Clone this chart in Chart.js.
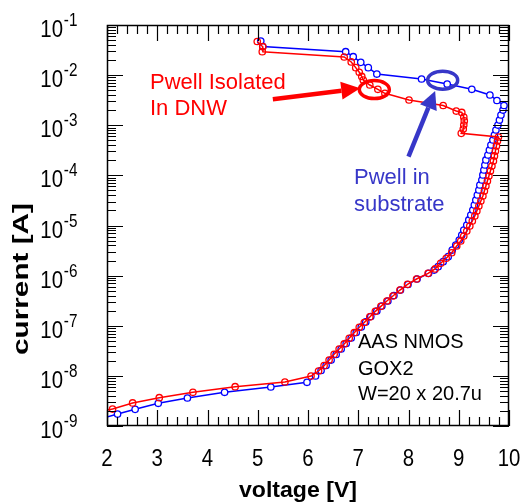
<!DOCTYPE html>
<html>
<head>
<meta charset="utf-8">
<script src="https://cdn.jsdelivr.net/npm/chart.js@4.4.1/dist/chart.umd.min.js"></script>
<style>
  html, body { margin: 0; padding: 0; background: #fff; }
  #wrap { width: 523px; height: 504px; }
</style>
</head>
<body>
<div id="wrap"><canvas id="ivChart" width="523" height="504"></canvas></div>
<script>
// Pwell isolated in DNW (red): voltage [V] / current [A]
const redV = [1.80, 2.11, 2.51, 3.04, 3.71, 4.55, 5.54, 6.06, 6.21, 6.32, 6.42, 6.52, 6.62, 6.72, 6.82, 6.92,
  7.02, 7.12, 7.23, 7.34, 7.45, 7.57, 7.69, 7.83, 7.98, 8.16, 8.39, 8.53, 8.64, 8.75, 8.86, 8.96,
  9.04, 9.10, 9.16, 9.22, 9.27, 9.32, 9.36, 9.40, 9.44, 9.48, 9.51, 9.54, 9.57, 9.60, 9.63, 9.66,
  9.69, 9.71, 9.73, 9.75, 9.77, 9.79, 9.05, 9.09, 9.10, 9.11, 9.10, 9.06, 8.95, 8.69, 8.01, 7.53,
  7.39, 7.23, 7.10, 7.07, 7.02, 6.95, 6.86, 6.72, 5.09, 5.10, 4.99]
const redI = [1.90e-9, 2.18e-9, 2.88e-9, 3.67e-9, 4.70e-9, 6.08e-9, 7.55e-9, 9.94e-9, 1.25e-8, 1.60e-8, 2.07e-8, 2.69e-8, 3.44e-8, 4.33e-8, 5.62e-8, 7.26e-8,
  9.31e-8, 1.16e-7, 1.50e-7, 1.94e-7, 2.44e-7, 3.12e-7, 3.92e-7, 5.16e-7, 6.71e-7, 8.57e-7, 1.11e-6, 1.36e-6, 1.76e-6, 2.22e-6, 2.86e-6, 3.90e-6,
  4.91e-6, 6.17e-6, 7.76e-6, 9.77e-6, 1.23e-5, 1.55e-5, 1.95e-5, 2.45e-5, 3.08e-5, 3.88e-5, 4.88e-5, 6.14e-5, 7.73e-5, 9.72e-5, 1.22e-4, 1.54e-4,
  1.94e-4, 2.44e-4, 3.06e-4, 3.86e-4, 4.85e-4, 5.83e-4, 6.90e-4, 8.41e-4, 1.01e-3, 1.22e-3, 1.46e-3, 1.80e-3, 1.92e-3, 2.48e-3, 3.19e-3, 4.34e-3,
  5.21e-3, 6.35e-3, 8.00e-3, 9.40e-3, 1.14e-2, 1.41e-2, 1.83e-2, 2.30e-2, 2.93e-2, 3.69e-2, 4.69e-2]

// Pwell in substrate (blue)
const blueV = [1.80, 2.21, 2.56, 3.02, 3.60, 4.34, 5.26, 5.98, 6.15, 6.26, 6.36, 6.46, 6.56, 6.66, 6.76, 6.86,
  6.96, 7.06, 7.15, 7.25, 7.37, 7.47, 7.59, 7.71, 7.84, 7.99, 8.17, 8.40, 8.51, 8.59, 8.69, 8.79,
  8.87, 8.94, 9.01, 9.06, 9.10, 9.16, 9.20, 9.24, 9.28, 9.31, 9.34, 9.37, 9.40, 9.42, 9.46, 9.48,
  9.50, 9.52, 9.54, 9.58, 9.61, 9.64, 9.68, 9.71, 9.74, 9.78, 9.81, 9.84, 9.88, 9.90, 9.76, 9.62,
  9.26, 8.77, 8.26, 7.37, 7.20, 7.05, 6.90, 6.75, 5.10, 5.06]
const blueI = [1.34e-9, 1.73e-9, 2.15e-9, 2.84e-9, 3.62e-9, 4.70e-9, 6.00e-9, 7.45e-9, 9.94e-9, 1.28e-8, 1.61e-8, 2.07e-8, 2.67e-8, 3.44e-8, 4.43e-8, 5.70e-8,
  7.33e-8, 9.44e-8, 1.19e-7, 1.53e-7, 1.97e-7, 2.48e-7, 3.12e-7, 4.01e-7, 5.16e-7, 6.65e-7, 8.57e-7, 1.11e-6, 1.29e-6, 1.51e-6, 1.90e-6, 2.39e-6,
  3.24e-6, 4.08e-6, 5.14e-6, 6.46e-6, 8.13e-6, 1.02e-5, 1.29e-5, 1.62e-5, 2.04e-5, 2.56e-5, 3.23e-5, 4.06e-5, 5.11e-5, 6.43e-5, 8.09e-5, 1.02e-4,
  1.28e-4, 1.61e-4, 2.03e-4, 2.55e-4, 3.21e-4, 4.04e-4, 5.08e-4, 6.39e-4, 8.04e-4, 1.01e-3, 1.27e-3, 1.60e-3, 2.01e-3, 2.48e-3, 3.12e-3, 4.01e-3,
  5.21e-3, 6.65e-3, 8.37e-3, 1.05e-2, 1.41e-2, 1.80e-2, 2.33e-2, 2.93e-2, 3.72e-2, 4.80e-2]

// axis ticks
const xTicks = [2, 3, 4, 5, 6, 7, 8, 9, 10]
const yExps = [-9, -8, -7, -6, -5, -4, -3, -2, -1]

const FONT = '"Liberation Sans", Arial, Helvetica, sans-serif'
const RED = '#ff0000'
const BLUE = '#0000ff'
const NOTE_BLUE = '#3737c8'

const toPts = (xs, ys) => xs.map((v, i) => ({ x: v, y: ys[i] }))

// 軸・目盛り・注記は自前で描画
const overlay = {
  id: 'overlay',
  afterDraw(chart) {
    const { ctx, chartArea: a } = chart
    const sx = chart.scales.x
    const sy = chart.scales.y
    ctx.save()

    // frame
    ctx.strokeStyle = '#000'
    ctx.lineWidth = 1.5
    ctx.strokeRect(a.left + 0.5, a.top + 0.5, a.width - 1, a.height - 1)

    // x ticks (inside, top and bottom)
    ctx.lineWidth = 1.2
    ctx.beginPath()
    for (let k = 0; k <= 40; k++) {
      const v = 2 + k * 0.2
      const px = Math.round(sx.getPixelForValue(v)) + 0.5
      const len = k % 5 === 0 ? 16 : 9
      ctx.moveTo(px, a.bottom); ctx.lineTo(px, a.bottom - len)
      ctx.moveTo(px, a.top); ctx.lineTo(px, a.top + len)
    }
    // y ticks (log, inside, left and right)
    for (let e = -9; e <= -1; e++) {
      for (let m = 1; m <= 9; m++) {
        if (e === -1 && m > 1) break
        const py = Math.round(sy.getPixelForValue(m * Math.pow(10, e))) + 0.5
        const len = m === 1 ? 16 : 9
        ctx.moveTo(a.left, py); ctx.lineTo(a.left + len, py)
        ctx.moveTo(a.right, py); ctx.lineTo(a.right - len, py)
      }
    }
    ctx.stroke()

    // tick labels
    ctx.fillStyle = '#000'
    ctx.textBaseline = 'alphabetic'
    xTicks.forEach(v => {
      const px = sx.getPixelForValue(v)
      ctx.save()
      ctx.translate(px, 466)
      ctx.scale(0.85, 1)
      ctx.font = '24px ' + FONT
      ctx.textAlign = 'center'
      ctx.fillText(String(v), 0, 0)
      ctx.restore()
    })
    yExps.forEach(e => {
      const py = sy.getPixelForValue(Math.pow(10, e))
      ctx.save()
      ctx.translate(63, py + 12)
      ctx.scale(0.85, 1)
      ctx.font = '24px ' + FONT
      ctx.textAlign = 'right'
      ctx.fillText('10', 0, 0)
      ctx.font = '18px ' + FONT
      ctx.textAlign = 'left'
      ctx.fillText(String(e), 1, -11)
      ctx.restore()
    })

    // axis titles
    ctx.font = 'bold 22px ' + FONT
    ctx.textAlign = 'center'
    ctx.save()
    ctx.translate(298, 497)
    ctx.scale(1.05, 1)
    ctx.fillText('voltage [V]', 0, 0)
    ctx.restore()
    ctx.save()
    ctx.translate(28, 279)
    ctx.rotate(-Math.PI / 2)
    ctx.scale(1.35, 1)
    ctx.fillText('current [A]', 0, 0)
    ctx.restore()

    // annotations
    const P = (v, i) => [sx.getPixelForValue(v), sy.getPixelForValue(i)]
    const arrow = (from, to, color, w, headLen, headHalf) => {
      const [x0, y0] = from, [x1, y1] = to
      const ang = Math.atan2(y1 - y0, x1 - x0)
      const bx = x1 - headLen * Math.cos(ang), by = y1 - headLen * Math.sin(ang)
      ctx.strokeStyle = color
      ctx.fillStyle = color
      ctx.lineWidth = w
      ctx.beginPath(); ctx.moveTo(x0, y0); ctx.lineTo(bx, by); ctx.stroke()
      ctx.beginPath()
      ctx.moveTo(x1, y1)
      ctx.lineTo(bx + headHalf * Math.sin(ang), by - headHalf * Math.cos(ang))
      ctx.lineTo(bx - headHalf * Math.sin(ang), by + headHalf * Math.cos(ang))
      ctx.closePath(); ctx.fill()
    }
    const ellipse = (c, rx, ry, color, w) => {
      ctx.strokeStyle = color
      ctx.lineWidth = w
      ctx.beginPath(); ctx.ellipse(c[0], c[1], rx, ry, 0, 0, Math.PI * 2); ctx.stroke()
    }

    ellipse(P(7.32, 5.16e-3), 15, 9, RED, 3.5)
    arrow(P(5.30, 3.30e-3), P(7.04, 5.46e-3), RED, 4.5, 19, 9)
    ellipse(P(8.68, 7.93e-3), 15, 9, NOTE_BLUE, 3.5)
    arrow(P(8.00, 2.36e-4), P(8.53, 4.82e-3), NOTE_BLUE, 4.5, 18, 9)

    ctx.textAlign = 'left'
    ctx.font = '22px ' + FONT
    ctx.fillStyle = RED
    ctx.fillText('Pwell Isolated', 150, 89)
    ctx.fillText('In DNW', 150, 115)
    ctx.fillStyle = NOTE_BLUE
    ctx.fillText('Pwell in', 354, 184)
    ctx.fillText('substrate', 354, 211)
    ctx.fillStyle = '#000'
    ctx.font = '20px ' + FONT
    ctx.fillText('AAS NMOS', 358, 348)
    ctx.fillText('GOX2', 358, 375)
    ctx.fillText('W=20 x 20.7u', 358, 400)

    ctx.restore()
  }
}

new Chart(document.getElementById('ivChart'), {
  type: 'line',
  data: {
    datasets: [
      {
        label: 'Pwell Isolated In DNW',
        data: toPts(redV, redI),
        borderColor: RED,
        backgroundColor: 'rgba(0,0,0,0)',
        pointBorderColor: RED,
        pointBackgroundColor: 'rgba(0,0,0,0)',
        borderWidth: 1.5,
        pointRadius: 3.2,
        pointBorderWidth: 1.3,
        tension: 0,
        clip: 0
      },
      {
        label: 'Pwell in substrate',
        data: toPts(blueV, blueI),
        borderColor: BLUE,
        backgroundColor: 'rgba(0,0,0,0)',
        pointBorderColor: BLUE,
        pointBackgroundColor: '#fff',
        borderWidth: 1.5,
        pointRadius: 3.2,
        pointBorderWidth: 1.3,
        tension: 0,
        clip: 0
      }
    ]
  },
  options: {
    responsive: false,
    animation: false,
    layout: { padding: { left: 107, top: 25, right: 14, bottom: 78 } },
    plugins: { legend: { display: false }, tooltip: { enabled: false } },
    scales: {
      x: { type: 'linear', min: 2, max: 10, display: false },
      y: { type: 'logarithmic', min: 1e-9, max: 1e-1, display: false }
    }
  },
  plugins: [overlay]
})
</script>
</body>
</html>
